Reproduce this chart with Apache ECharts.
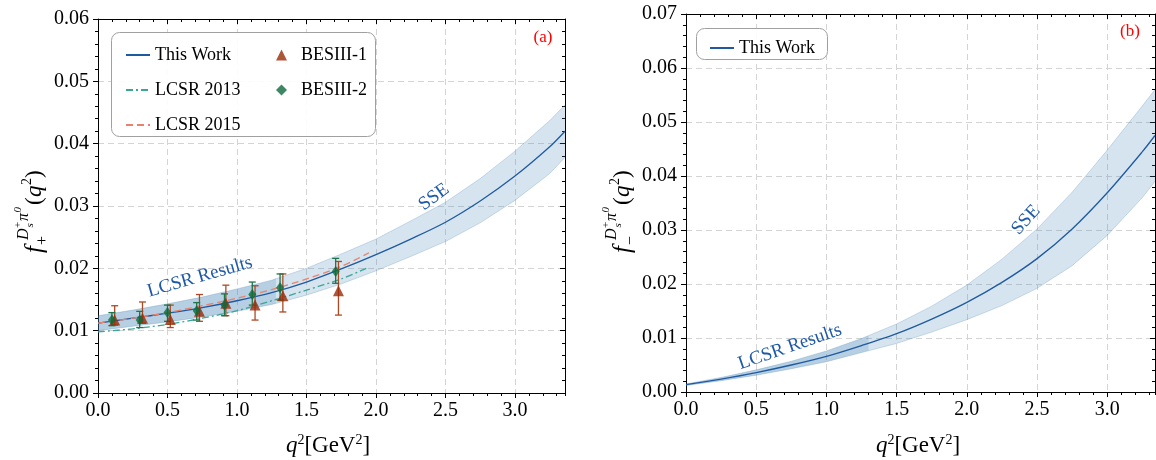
<!DOCTYPE html>
<html>
<head>
<meta charset="utf-8">
<script src="https://cdn.jsdelivr.net/npm/echarts@6/dist/echarts.min.js"></script>
<style>
  html, body { margin: 0; padding: 0; background: #fff; }
  #chart { width: 1156px; height: 460px; }
</style>
</head>
<body>
<div id="chart"></div>
<script>
// ---------- f_+ panel (a) ----------
const qPlus = [0, 0.25, 0.5, 0.75, 1.0, 1.25, 1.5, 1.75, 2.0, 2.25, 2.5, 2.75, 3.0, 3.25, 3.36];
const fPlusMid = [0.0112, 0.0120, 0.0128, 0.0137, 0.0148, 0.0161, 0.0178, 0.0199, 0.0222, 0.0247, 0.0274, 0.0308, 0.0348, 0.0395, 0.0420];
const fPlusUp  = [0.0124, 0.0133, 0.0143, 0.0154, 0.0167, 0.0181, 0.0200, 0.0223, 0.0247, 0.0276, 0.0306, 0.0344, 0.0388, 0.0437, 0.0462];
const fPlusLo  = [0.0100, 0.0107, 0.0114, 0.0122, 0.0131, 0.0142, 0.0157, 0.0175, 0.0196, 0.0219, 0.0243, 0.0273, 0.0309, 0.0352, 0.0378];

// LCSR region of the band
const qPlusLcsr = [0, 0.25, 0.5, 0.75, 1.0, 1.25, 1.28];
const fPlusLcsrUp = [0.0124, 0.0133, 0.0143, 0.0154, 0.0167, 0.0181, 0.0184];
const fPlusLcsrLo = [0.0100, 0.0107, 0.0114, 0.0122, 0.0131, 0.0142, 0.0144];

// LCSR 2013
const q2013 = [0, 0.25, 0.5, 0.75, 1.0, 1.25, 1.5, 1.75, 1.93];
const f2013 = [0.0098, 0.0103, 0.0110, 0.0120, 0.0132, 0.0148, 0.0165, 0.0183, 0.0200];

// LCSR 2015
const q2015 = [0, 0.25, 0.5, 0.75, 1.0, 1.25, 1.5, 1.75, 1.95];
const f2015 = [0.0112, 0.0120, 0.0129, 0.0140, 0.0152, 0.0166, 0.0183, 0.0203, 0.0225];

// BESIII-1
const qBes1 = [0.12, 0.32, 0.52, 0.73, 0.92, 1.13, 1.33, 1.73];
const fBes1 = [0.0117, 0.0120, 0.0118, 0.0131, 0.0144, 0.0141, 0.0156, 0.0164];
const fBes1Hi = [0.0140, 0.0146, 0.0141, 0.0158, 0.0173, 0.0172, 0.0191, 0.0211];
const fBes1Lo = [0.0109, 0.0112, 0.0105, 0.0115, 0.0124, 0.0117, 0.0130, 0.0125];

// BESIII-2
const qBes2 = [0.10, 0.30, 0.50, 0.71, 0.91, 1.11, 1.31, 1.71];
const fBes2 = [0.0117, 0.0117, 0.0129, 0.0132, 0.0141, 0.0158, 0.0169, 0.0195];
const fBes2Hi = [0.0129, 0.0131, 0.0141, 0.0145, 0.0159, 0.0178, 0.0191, 0.0216];
const fBes2Lo = [0.0108, 0.0105, 0.0115, 0.0117, 0.0124, 0.0141, 0.0149, 0.0176];

// ---------- f_- panel (b) ----------
const qMinus = [0, 0.25, 0.5, 0.75, 1.0, 1.25, 1.5, 1.75, 2.0, 2.25, 2.5, 2.75, 3.0, 3.25, 3.34];
const fMinusMid = [0.00135, 0.0024, 0.0036, 0.0050, 0.0066, 0.0086, 0.0108, 0.0135, 0.0166, 0.0203, 0.0247, 0.0302, 0.0369, 0.0445, 0.0475];
const fMinusUp  = [0.0015, 0.0027, 0.0041, 0.0057, 0.0076, 0.0099, 0.0126, 0.0159, 0.0198, 0.0246, 0.0302, 0.0370, 0.0448, 0.0530, 0.0560];
const fMinusLo  = [0.0012, 0.0021, 0.0031, 0.0043, 0.0056, 0.0073, 0.0090, 0.0111, 0.0134, 0.0160, 0.0192, 0.0234, 0.0290, 0.0360, 0.0390];

const qMinusLcsr = [0, 0.25, 0.5, 0.75, 1.0, 1.25, 1.30];
const fMinusLcsrUp = [0.0015, 0.0027, 0.0041, 0.0057, 0.0076, 0.0099, 0.0104];
const fMinusLcsrLo = [0.0012, 0.0021, 0.0031, 0.0043, 0.0056, 0.0073, 0.0077];

// axis ranges and ticks
const xMaxA = 3.36, xMaxB = 3.34;
const yMaxA = 0.06, yMaxB = 0.07;
const xMajor = 0.5, xMinor = 0.1;
const yMajor = 0.01, yMinor = 0.002;

const FONT = 'Liberation Serif';
const BLUE = '#1f5aa0';
const BAND = 'rgba(70,130,180,0.22)';
const BAND_EDGE = 'rgba(70,130,180,0.25)';
const RED = '#992c07', RED_BAR = '#ad4824';
const GREEN = '#0c6a3b', GREEN_BAR = '#1e7548';

const pairs = (xs, ys) => xs.map((x, i) => [x, ys[i]]);

function band(xs, lo, hi, ax, edge) {
  return {
    type: 'custom', xAxisIndex: ax, yAxisIndex: ax, z: 1, silent: true, clip: true,
    data: [[xs[0], lo[0], hi[0]]],
    renderItem(params, api) {
      const up = xs.map((x, i) => api.coord([x, hi[i]]));
      const dn = xs.map((x, i) => api.coord([x, lo[i]]));
      const pts = up.concat(dn.slice().reverse());
      const children = [{ type: 'polygon', shape: { points: pts }, style: { fill: BAND, lineWidth: 0 } }];
      if (edge) {
        children.push({ type: 'polyline', shape: { points: up }, style: { stroke: BAND_EDGE, lineWidth: 1, fill: null } });
        children.push({ type: 'polyline', shape: { points: dn }, style: { stroke: BAND_EDGE, lineWidth: 1, fill: null } });
      }
      return { type: 'group', children: children };
    }
  };
}

function errorBars(xs, lo, hi, color) {
  return {
    type: 'custom', xAxisIndex: 0, yAxisIndex: 0, z: 4, silent: true,
    data: xs.map((x, i) => [x, lo[i], hi[i]]),
    encode: { x: 0, y: [1, 2] },
    renderItem(params, api) {
      const x = api.value(0);
      const top = api.coord([x, api.value(2)]);
      const bot = api.coord([x, api.value(1)]);
      const w = 3.5;
      const st = { stroke: color, lineWidth: 1.3 };
      return { type: 'group', children: [
        { type: 'line', shape: { x1: top[0], y1: top[1], x2: bot[0], y2: bot[1] }, style: st },
        { type: 'line', shape: { x1: top[0] - w, y1: top[1], x2: top[0] + w, y2: top[1] }, style: st },
        { type: 'line', shape: { x1: bot[0] - w, y1: bot[1], x2: bot[0] + w, y2: bot[1] }, style: st }
      ] };
    }
  };
}

// four x axes and four y axes per panel: labelled major, minor, mirrored top/right
function xAxes(grid, max) {
  const base = { type: 'value', gridIndex: grid, min: 0, max: max };
  return [
    Object.assign({}, base, { position: 'bottom', interval: xMajor,
      axisLine: { show: true, onZero: false, lineStyle: { color: '#000', width: 1 } },
      axisTick: { show: true, inside: false, length: 5, lineStyle: { color: '#000' } },
      axisLabel: { show: true, showMaxLabel: false, margin: 8, formatter: v => v.toFixed(1),
        fontFamily: FONT, fontSize: 20, color: '#000' },
      splitLine: { show: true, lineStyle: { color: '#d4d4d4', type: [6, 4], width: 1 } } }),
    Object.assign({}, base, { position: 'bottom', interval: xMinor,
      axisLine: { show: false, onZero: false },
      axisTick: { show: true, inside: false, length: 3, lineStyle: { color: '#000' } },
      axisLabel: { show: false }, splitLine: { show: false } }),
    Object.assign({}, base, { position: 'top', interval: xMajor,
      axisLine: { show: true, onZero: false, lineStyle: { color: '#000', width: 1 } },
      axisTick: { show: true, inside: true, length: 5, lineStyle: { color: '#000' } },
      axisLabel: { show: false }, splitLine: { show: false } }),
    Object.assign({}, base, { position: 'top', interval: xMinor,
      axisLine: { show: false, onZero: false },
      axisTick: { show: true, inside: true, length: 3, lineStyle: { color: '#000' } },
      axisLabel: { show: false }, splitLine: { show: false } })
  ];
}

function yAxes(grid, max) {
  const base = { type: 'value', gridIndex: grid, min: 0, max: max };
  return [
    Object.assign({}, base, { position: 'left', interval: yMajor,
      axisLine: { show: true, onZero: false, lineStyle: { color: '#000', width: 1 } },
      axisTick: { show: true, inside: false, length: 5, lineStyle: { color: '#000' } },
      axisLabel: { show: true, margin: 9, formatter: v => v.toFixed(2),
        fontFamily: FONT, fontSize: 20, color: '#000' },
      splitLine: { show: true, lineStyle: { color: '#d4d4d4', type: [6, 4], width: 1 } } }),
    Object.assign({}, base, { position: 'left', interval: yMinor,
      axisLine: { show: false, onZero: false },
      axisTick: { show: true, inside: false, length: 3, lineStyle: { color: '#000' } },
      axisLabel: { show: false }, splitLine: { show: false } }),
    Object.assign({}, base, { position: 'right', interval: yMajor,
      axisLine: { show: true, onZero: false, lineStyle: { color: '#000', width: 1 } },
      axisTick: { show: true, inside: true, length: 5, lineStyle: { color: '#000' } },
      axisLabel: { show: false }, splitLine: { show: false } }),
    Object.assign({}, base, { position: 'right', interval: yMinor,
      axisLine: { show: false, onZero: false },
      axisTick: { show: true, inside: true, length: 3, lineStyle: { color: '#000' } },
      axisLabel: { show: false }, splitLine: { show: false } })
  ];
}

// y-axis title f_{±}^{D_s^+ pi^0}(q^2), assembled from pieces and turned upright
function yTitle(px, py, sign) {
  const t = (text, x, y, size, italic) => ({
    type: 'text', x: x, y: y,
    style: { text: text, fontFamily: FONT, fontSize: size, fontStyle: italic ? 'italic' : 'normal',
      fill: '#000', verticalAlign: 'middle', align: 'left' }
  });
  return {
    type: 'group', x: px, y: py, rotation: Math.PI / 2,
    children: [
      t('f', 0, 0, 25, true),
      t(sign, 8, 8, 16, false),
      t('D', 13, -11, 16, true),
      t('+', 25, -17, 11, false),
      t('s', 25.5, -5, 11, true),
      t('π', 32, -11, 16, true),
      t('0', 40.5, -17, 11, true),
      t('(', 48, 0, 23, false),
      t('q', 56, 0, 23, true),
      t('2', 68, -8, 14, false),
      t(')', 75, 0, 23, false)
    ]
  };
}

function xTitle(cx, cy) {
  return {
    type: 'text', x: cx, y: cy,
    style: {
      text: '{i|q}{s|2}{n|[GeV}{s|2}{n|]}',
      align: 'center', verticalAlign: 'middle',
      rich: {
        i: { fontFamily: FONT, fontSize: 23, fontStyle: 'italic', lineHeight: 26, fill: '#000' },
        n: { fontFamily: FONT, fontSize: 23, lineHeight: 26, fill: '#000' },
        s: { fontFamily: FONT, fontSize: 14, lineHeight: 14, verticalAlign: 'top', fill: '#000' }
      }
    }
  };
}

function note(text, x, y, deg, color, size) {
  return {
    type: 'text', x: x, y: y, rotation: deg * Math.PI / 180, z: 10,
    style: { text: text, fontFamily: FONT, fontSize: size, fill: color, align: 'center', verticalAlign: 'middle' }
  };
}

const legendText = { fontFamily: FONT, fontSize: 18, color: '#000' };

const chart = echarts.init(document.getElementById('chart'), null, { renderer: 'canvas' });

const option = {
  animation: false,
  backgroundColor: '#fff',
  grid: [
    { left: 98, right: 591, top: 19, bottom: 67 },
    { left: 686, right: 1, top: 14, bottom: 68 }
  ],
  xAxis: xAxes(0, xMaxA).concat(xAxes(1, xMaxB)),
  yAxis: yAxes(0, yMaxA).concat(yAxes(1, yMaxB)),
  legend: [
    { data: ['This Work', 'LCSR 2013', 'LCSR 2015'], orient: 'vertical', left: 120, top: 41,
      itemGap: 17, itemWidth: 24, itemHeight: 12, z: 6, selectedMode: false,
      itemStyle: { opacity: 0 },
      textStyle: legendText },
    { data: ['BESIII-1', 'BESIII-2'], orient: 'vertical', left: 271, top: 41,
      itemGap: 17, itemWidth: 11, itemHeight: 11, z: 6, selectedMode: false,
      formatter: '{t|{name}}',
      textStyle: Object.assign({ rich: { t: Object.assign({ padding: [0, 0, 0, 9] }, legendText) } }, legendText) },
    { data: ['This Work'], orient: 'vertical', left: 704, top: 34,
      itemWidth: 24, itemHeight: 12, z: 6, selectedMode: false,
      itemStyle: { opacity: 0 },
      textStyle: legendText }
  ],
  graphic: [
    { type: 'rect', z: 5, shape: { x: 111.5, y: 32.5, width: 264, height: 104, r: 8 },
      style: { fill: 'rgba(255,255,255,0.9)', stroke: '#a0a0a0', lineWidth: 1 } },
    { type: 'rect', z: 5, shape: { x: 696.5, y: 28.5, width: 131, height: 31, r: 8 },
      style: { fill: 'rgba(255,255,255,0.9)', stroke: '#a0a0a0', lineWidth: 1 } },
    yTitle(35, 253, '+'),
    yTitle(623, 253, '\u2212'),
    xTitle(328, 446),
    xTitle(918, 446),
    note('(a)', 543, 38, 0, '#ff0000', 17),
    note('(b)', 1130, 32, 0, '#ff0000', 17),
    note('LCSR Results', 200, 277, 16, '#1f5aa6', 19),
    note('SSE', 434, 197, 36, '#1f5aa6', 19),
    note('LCSR Results', 790, 347, 19, '#1f5aa6', 19),
    note('SSE', 1026, 220, 48, '#1f5aa6', 19)
  ],
  series: [
    band(qPlus, fPlusLo, fPlusUp, 0, true),
    band(qPlusLcsr, fPlusLcsrLo, fPlusLcsrUp, 0, false),
    { name: 'This Work', type: 'line', xAxisIndex: 0, yAxisIndex: 0, z: 3,
      data: pairs(qPlus, fPlusMid), smooth: 0.3, symbol: 'none', color: BLUE,
      lineStyle: { color: BLUE, width: 1.3 } },
    { name: 'LCSR 2013', type: 'line', xAxisIndex: 0, yAxisIndex: 0, z: 3,
      data: pairs(q2013, f2013), smooth: 0.3, symbol: 'none', color: '#3aa696',
      lineStyle: { color: '#3aa696', width: 1.3, type: [7, 3, 2, 3] } },
    { name: 'LCSR 2015', type: 'line', xAxisIndex: 0, yAxisIndex: 0, z: 3,
      data: pairs(q2015, f2015), smooth: 0.3, symbol: 'none', color: '#e8826c',
      lineStyle: { color: '#e8826c', width: 1.3, type: [7, 4] } },
    errorBars(qBes1, fBes1Lo, fBes1Hi, RED_BAR),
    errorBars(qBes2, fBes2Lo, fBes2Hi, GREEN_BAR),
    { name: 'BESIII-1', type: 'scatter', xAxisIndex: 0, yAxisIndex: 0, z: 5,
      data: pairs(qBes1, fBes1), symbol: 'triangle', symbolSize: [11, 11],
      itemStyle: { color: RED } },
    { name: 'BESIII-2', type: 'scatter', xAxisIndex: 0, yAxisIndex: 0, z: 5,
      data: pairs(qBes2, fBes2), symbol: 'diamond', symbolSize: [8, 11],
      itemStyle: { color: GREEN } },
    band(qMinus, fMinusLo, fMinusUp, 4, true),
    band(qMinusLcsr, fMinusLcsrLo, fMinusLcsrUp, 4, false),
    { name: 'This Work', type: 'line', xAxisIndex: 4, yAxisIndex: 4, z: 3,
      data: pairs(qMinus, fMinusMid), smooth: 0.3, symbol: 'none', color: BLUE,
      lineStyle: { color: BLUE, width: 1.3 } }
  ]
};

chart.setOption(option);
</script>
</body>
</html>
